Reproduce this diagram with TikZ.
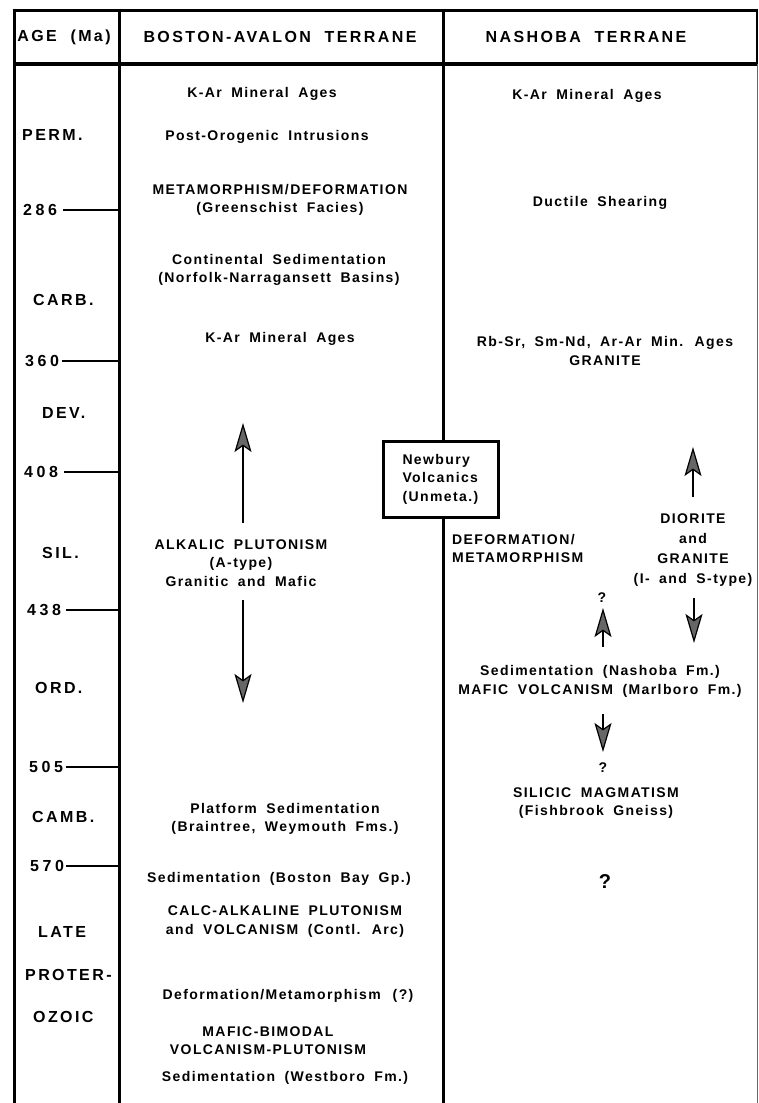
\documentclass[tikz,border=0pt]{standalone}
\usepackage{fontspec}
\setmainfont{Liberation Sans}
\newfontfamily\bodyfont{Liberation Sans}[LetterSpace=10,WordSpace=1.8]
\newfontfamily\headfont{Liberation Sans}[LetterSpace=15,WordSpace=2]
\newfontfamily\numfont{Liberation Sans}[LetterSpace=22]
\usetikzlibrary{arrows.meta}
\tikzset{
  txt/.style={font=\bodyfont\bfseries\fontsize{14}{18.5}\selectfont, align=center, inner sep=0pt},
  hd/.style={font=\headfont\bfseries\fontsize{16}{19}\selectfont, inner sep=0pt},
  agel/.style={hd, anchor=west},
  numl/.style={font=\numfont\bfseries\fontsize{16}{19}\selectfont, inner sep=0pt, anchor=west},
  frame/.style={line width=3pt},
  tick/.style={line width=2.4pt},
  arr/.style={line width=2.4pt, -{Stealth[length=29pt,width=17pt,inset=6pt,line width=1.2pt,fill=black!60]}},
  nbox/.style={txt, draw, line width=3pt, fill=white, align=left, text width=76pt, inner xsep=19.5pt, inner ysep=0pt, minimum height=76pt},
}
\begin{document}
\begin{tikzpicture}[x=1pt,y=-1pt]
\useasboundingbox (0,0) rectangle (759,1103);
% frame
\draw[frame] (12.5,10) -- (757,10);
\draw[line width=4pt] (12.5,64) -- (757,64);
\draw[frame] (14,8.5) -- (14,1103);
\draw[frame] (119,8.5) -- (119,1103);
\draw[frame] (443,8.5) -- (443,1103);
\draw[line width=1.5pt] (757,8.5) -- (757,64);
\draw[line width=0.8pt, black!60] (757,64) -- (757,1103);
% header
\node[hd] (hage) at (64,37) {AGE (Ma)};
\node[hd] (hbos) at (280,37) {BOSTON-AVALON TERRANE};
\node[hd] (hnas) at (586,37) {NASHOBA TERRANE};
% age column
\node[agel] (perm) at (22,135) {PERM.};
\node[numl] (n286) at (23,210) {286};
\node[agel] (carb) at (33,300) {CARB.};
\node[numl] (n360) at (25,361) {360};
\node[agel] (dev) at (42,413) {DEV.};
\node[numl] (n408) at (24,472) {408};
\node[agel] (sil) at (42,553) {SIL.};
\node[numl] (n438) at (27,610) {438};
\node[agel] (ord) at (35,688) {ORD.};
\node[numl] (n505) at (29,767) {505};
\node[agel] (camb) at (32,817) {CAMB.};
\node[numl] (n570) at (30,866) {570};
\node[agel] (late) at (38,932) {LATE};
\node[agel] (prot) at (25,975) {PROTER-};
\node[agel] (ozoic) at (33,1017) {OZOIC};
\coordinate (e286) at (119,210);
\coordinate (e360) at (119,361);
\coordinate (e408) at (119,472);
\coordinate (e438) at (119,610);
\coordinate (e505) at (119,767);
\coordinate (e570) at (119,866);
\draw[tick] ([xshift=6pt]n286.east) -- (e286);
\draw[tick] ([xshift=3pt]n360.east) -- (e360);
\draw[tick] ([xshift=6pt]n408.east) -- (e408);
\draw[tick] ([xshift=5pt]n438.east) -- (e438);
\draw[tick] ([xshift=3pt]n505.east) -- (e505);
\draw[tick] ([xshift=2pt]n570.east) -- (e570);
% Boston-Avalon column
\node[txt] (b1) at (262,94) {K-Ar Mineral Ages};
\node[txt] (b2) at (267,137) {Post-Orogenic Intrusions};
\node[txt] (b3) at (280,200) {METAMORPHISM/DEFORMATION\\(Greenschist Facies)};
\node[txt] (b4) at (279,270) {Continental Sedimentation\\(Norfolk-Narragansett Basins)};
\node[txt] (b5) at (280,339) {K-Ar Mineral Ages};
\node[txt] (b6) at (241,563) {ALKALIC PLUTONISM\\(A-type)\\Granitic and Mafic};
\coordinate (ba1s) at (243,523);
\coordinate (ba1e) at (243,423);
\coordinate (ba2s) at (243,600);
\coordinate (ba2e) at (243,703);
\draw[arr] (ba1s) -- (ba1e);
\draw[arr] (ba2s) -- (ba2e);
\node[txt] (b7) at (285,819) {Platform Sedimentation\\(Braintree, Weymouth Fms.)};
\node[txt] (b8) at (279,879) {Sedimentation (Boston Bay Gp.)};
\node[txt] (b9) at (285,921.5) {CALC-ALKALINE PLUTONISM\\and VOLCANISM (Contl. Arc)};
\node[txt] (b10) at (288,996) {Deformation/Metamorphism\hspace{12pt}(?)};
\node[txt] (b11) at (268,1040.5) {MAFIC-BIMODAL\\VOLCANISM-PLUTONISM};
\node[txt] (b12) at (285,1078) {Sedimentation (Westboro Fm.)};
% Newbury box
\node[nbox] (nb) at (440.5,479) {Newbury\\Volcanics\\(Unmeta.)};
% Nashoba column
\node[txt] (c1) at (587,96) {K-Ar Mineral Ages};
\node[txt] (c2) at (600,203) {Ductile Shearing};
\node[txt] (c3) at (605,351) {Rb-Sr, Sm-Nd, Ar-Ar Min. Ages\\GRANITE};
\node[txt, align=left, anchor=west] (c4) at (452,548.5) {DEFORMATION/\\METAMORPHISM};
\node[txt, font=\bodyfont\bfseries\fontsize{14}{20}\selectfont] (c5) at (693,550) {DIORITE\\and\\GRANITE\\(I- and S-type)};
\coordinate (ca1s) at (693,497);
\coordinate (ca1e) at (693,447);
\coordinate (ca2s) at (694,598);
\coordinate (ca2e) at (694,643);
\draw[arr] (ca1s) -- (ca1e);
\draw[arr] (ca2s) -- (ca2e);
\node[txt] (q1) at (602,598) {?};
\coordinate (ca3s) at (603,647);
\coordinate (ca3e) at (603,608);
\draw[arr] (ca3s) -- (ca3e);
\node[txt] (c6) at (600,681.5) {Sedimentation (Nashoba Fm.)\\MAFIC VOLCANISM (Marlboro Fm.)};
\coordinate (ca4s) at (603,714);
\coordinate (ca4e) at (603,752);
\draw[arr] (ca4s) -- (ca4e);
\node[txt] (q2) at (603,768) {?};
\node[txt] (c7) at (596,803) {SILICIC MAGMATISM\\(Fishbrook Gneiss)};
\node[txt, font=\bodyfont\bfseries\fontsize{20}{22}\selectfont] (q3) at (605,882) {?};
\end{tikzpicture}
\end{document}
